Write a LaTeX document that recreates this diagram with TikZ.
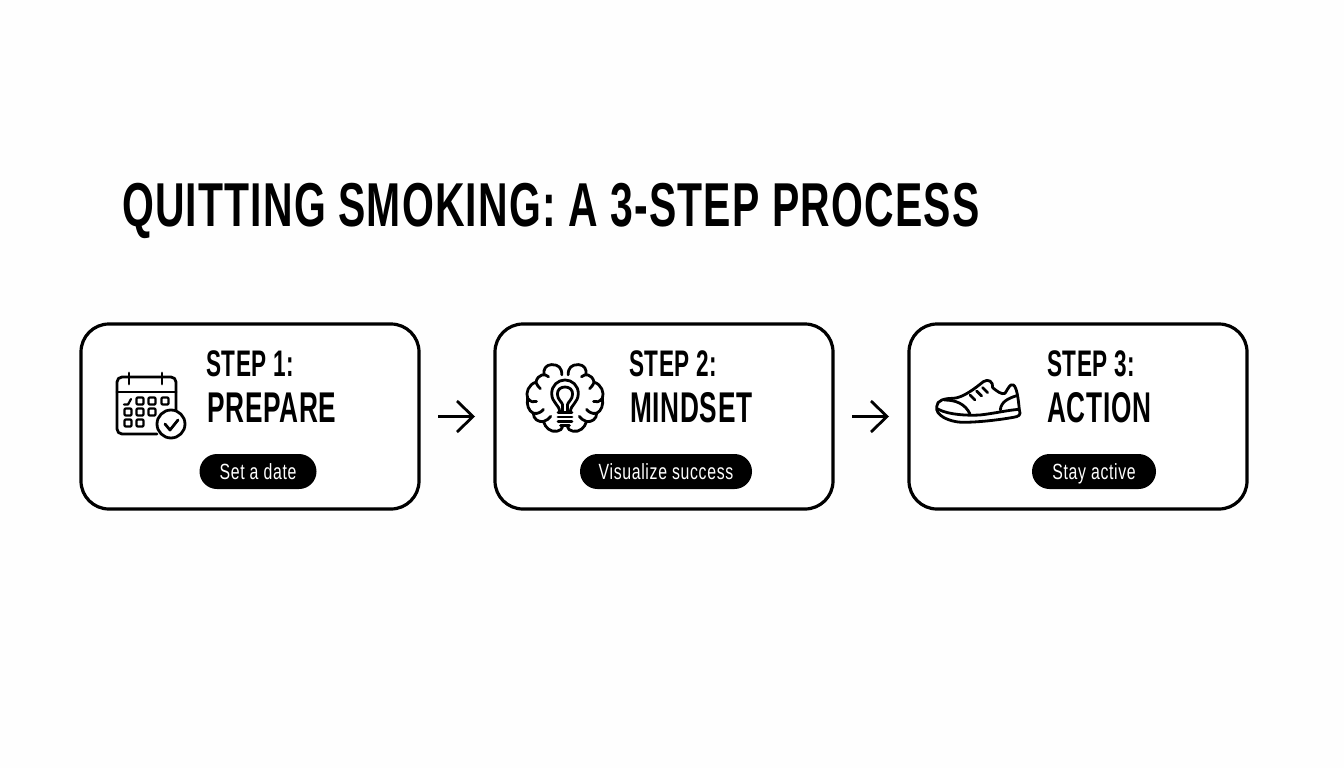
\documentclass[tikz,border=0pt]{standalone}
\usepackage{fontspec}
\usetikzlibrary{arrows.meta}
\setmainfont{Liberation Sans}
\newfontfamily\titlefont[FakeStretch=0.66,LetterSpace=1.9]{Liberation Sans Bold}
\newfontfamily\headfont[FakeStretch=0.61,LetterSpace=1.6]{Liberation Sans Bold}
\newfontfamily\pillfont[FakeStretch=0.72,LetterSpace=3]{Liberation Sans}
\tikzset{
  cardbox/.style={draw=black,line width=3.2pt,rounded corners=28pt,fill=white,minimum width=338pt,minimum height=185pt,inner sep=0pt,outer sep=0pt},
  pillbox/.style={fill=black,text=white,rounded corners=17.5pt,minimum height=35pt,inner sep=0pt,text height=16.5pt,text depth=1pt,font=\pillfont\fontsize{22}{22}\selectfont},
  stepa/.style={anchor=base west,inner sep=0pt,font=\headfont\fontsize{37}{37}\selectfont},
  stepb/.style={anchor=base west,inner sep=0pt,font=\headfont\fontsize{43}{43}\selectfont},
  flow/.style={draw=black,line width=2.6pt,shorten >=20pt,shorten <=19pt,-{Straight Barb[length=16pt,width=31pt,line width=2.8pt]}},
  icon/.style={line width=2.8pt,line cap=round,line join=round},
  thin icon/.style={line width=2.2pt,line cap=round,line join=round}
}
\begin{document}
\begin{tikzpicture}[x=1pt,y=-1pt]
\useasboundingbox (0,0) rectangle (1344,768);
\fill[white!99.5!black] (0,0) rectangle (1344,768);
\node[anchor=base west,inner sep=0pt,font=\titlefont\fontsize{62}{62}\selectfont] (title) at (122,226) {QUITTING SMOKING: A 3-STEP PROCESS};
\node[cardbox] (c1) at (250,416.5) {};
\node[cardbox] (c2) at (664,416.5) {};
\node[cardbox] (c3) at (1078,416.5) {};
\draw[flow] (c1) -- (c2);
\draw[flow] (c2) -- (c3);
\node[stepa] (s1) at (206,376) {STEP 1:};
\node[stepb] (p1) at (207,422) {PREPARE};
\node[stepa] (s2) at (629,376) {STEP 2:};
\node[stepb] (p2) at (630,422) {MINDSET};
\node[stepa] (s3) at (1047,376) {STEP 3:};
\node[stepb] (p3) at (1047,422) {ACTION};
\node[pillbox,minimum width=117pt] (b1) at (258,471.5) {Set a date};
\node[pillbox,minimum width=172pt] (b2) at (666,471.5) {Visualize success};
\node[pillbox,minimum width=124pt] (b3) at (1094,471.5) {Stay active};
% calendar
\begin{scope}[icon]
\draw[rounded corners=5pt] (157,434) -- (117,434) -- (117,377) -- (176,377) -- (176,410);
\draw (117,392) -- (176,392);
\draw (129,373) -- (129,384);
\draw (162,373) -- (162,384);
\draw (171,424) circle (14);
\draw (165,424) -- (170,430) -- (178,420);
\end{scope}
\begin{scope}[thin icon]
\foreach \p in {(140,401),(152,401),(165,401),(128,412),(140,412),(152,412),(128,423),(140,423)}
  \draw[rounded corners=1pt] \p ++(-3.5,-3.5) rectangle ++(7,7);
\draw (124,404.5) -- (128,404.5) -- (131,399);
\end{scope}
% brain
\begin{scope}[shift={(565,355)},x=0.3167pt,y=-0.32pt]
\foreach \m in {1,-1}{
\begin{scope}[xscale=\m,icon]
\draw (-10,62) .. controls (-10,40) and (-20,30) .. (-42,30)
  .. controls (-60,30) and (-70,45) .. (-66,62)
  (-52,68) .. controls (-62,58) and (-85,58) .. (-92,85)
  .. controls (-115,92) and (-125,118) .. (-118,135)
  .. controls (-122,155) and (-115,175) .. (-100,182)
  .. controls (-100,200) and (-85,210) .. (-68,208)
  .. controls (-62,228) and (-45,242) .. (-25,238)
  .. controls (-15,236) and (-10,232) .. (-8,225);
\draw (-118,135) .. controls (-108,148) and (-98,148) .. (-90,145);
\draw (-100,182) .. controls (-85,185) and (-75,178) .. (-68,170);
\draw (-68,208) .. controls (-58,205) and (-50,198) .. (-45,192);
\draw (-92,85) .. controls (-88,95) and (-84,100) .. (-78,105);
\end{scope}}
\begin{scope}[icon]
\draw (-17,178) .. controls (-17,155) and (-42,150) .. (-42,120)
  .. controls (-42,95) and (-22,78) .. (0,78)
  .. controls (22,78) and (42,95) .. (42,120)
  .. controls (42,150) and (17,155) .. (17,178);
\draw (-8,178) -- (-8,155) .. controls (-8,148) and (-24,140) .. (-24,122)
  .. controls (-24,108) and (-14,100) .. (0,100)
  .. controls (14,100) and (24,108) .. (24,122)
  .. controls (24,140) and (8,148) .. (8,155) -- (8,178);
\draw (-22,180) -- (22,180);
\draw (-22,194) -- (22,194);
\draw (-22,208) -- (22,208) (-14,220) -- (14,220);
\end{scope}
\end{scope}
% shoe
\begin{scope}[shift={(925,365)},x=0.3333pt,y=-0.3333pt,icon]
\draw (35,125) .. controls (35,105) and (60,100) .. (85,100)
  .. controls (115,98) and (150,70) .. (175,50)
  .. controls (190,40) and (205,50) .. (203,68)
  .. controls (215,78) and (230,90) .. (240,85)
  .. controls (250,70) and (255,55) .. (265,60)
  .. controls (275,65) and (280,100) .. (283,135)
  .. controls (290,150) and (280,155) .. (265,157)
  .. controls (220,165) and (160,172) .. (110,172)
  .. controls (70,170) and (30,150) .. (35,125) -- cycle;
\draw (38,132) .. controls (70,150) and (130,152) .. (165,150)
  .. controls (210,145) and (250,135) .. (283,133);
\draw (58,105) .. controls (90,105) and (120,115) .. (135,147);
\draw (226,135) .. controls (228,110) and (250,100) .. (275,92);
\draw (135,90) -- (150,105);
\draw (155,78) -- (170,93);
\draw (173,68) -- (188,83);
\end{scope}
\end{tikzpicture}
\end{document}
